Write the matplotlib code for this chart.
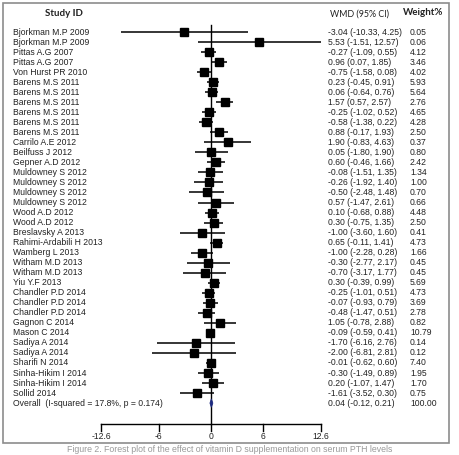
import matplotlib
matplotlib.use("Agg")
import matplotlib.pyplot as plt
import matplotlib.patches as mpatches
import matplotlib.transforms as mtransforms

# Study rows, top to bottom
studies = [
    "Bjorkman M.P 2009", "Bjorkman M.P 2009", "Pittas A.G 2007", "Pittas A.G 2007",
    "Von Hurst PR 2010", "Barens M.S 2011", "Barens M.S 2011", "Barens M.S 2011",
    "Barens M.S 2011", "Barens M.S 2011", "Barens M.S 2011", "Carrilo A.E 2012",
    "Beilfuss J 2012", "Gepner A.D 2012", "Muldowney S 2012", "Muldowney S 2012",
    "Muldowney S 2012", "Muldowney S 2012", "Wood A.D 2012", "Wood A.D 2012",
    "Breslavsky A 2013", "Rahimi-Ardabili H 2013", "Wamberg L 2013", "Witham M.D 2013",
    "Witham M.D 2013", "Yiu Y.F 2013", "Chandler P.D 2014", "Chandler P.D 2014",
    "Chandler P.D 2014", "Gagnon C 2014", "Mason C 2014", "Sadiya A 2014",
    "Sadiya A 2014", "Sharifi N 2014", "Sinha-Hikim I 2014", "Sinha-Hikim I 2014",
    "Sollid 2014",
]
wmd = [-3.04, 5.53, -0.27, 0.96, -0.75, 0.23, 0.06, 1.57, -0.25, -0.58, 0.88, 1.90,
       0.05, 0.60, -0.08, -0.26, -0.50, 0.57, 0.10, 0.30, -1.00, 0.65, -1.00, -0.30,
       -0.70, 0.30, -0.25, -0.07, -0.48, 1.05, -0.09, -1.70, -2.00, -0.01, -0.30,
       0.20, -1.61]
ci_low = [-10.33, -1.51, -1.09, 0.07, -1.58, -0.45, -0.64, 0.57, -1.02, -1.38, -0.17,
          -0.83, -1.80, -0.46, -1.51, -1.92, -2.48, -1.47, -0.68, -0.75, -3.60, -0.11,
          -2.28, -2.77, -3.17, -0.39, -1.01, -0.93, -1.47, -0.78, -0.59, -6.16, -6.81,
          -0.62, -1.49, -1.07, -3.52]
ci_high = [4.25, 12.57, 0.55, 1.85, 0.08, 0.91, 0.76, 2.57, 0.52, 0.22, 1.93, 4.63,
           1.90, 1.66, 1.35, 1.40, 1.48, 2.61, 0.88, 1.35, 1.60, 1.41, 0.28, 2.17,
           1.77, 0.99, 0.51, 0.79, 0.51, 2.88, 0.41, 2.76, 2.81, 0.60, 0.89, 1.47,
           0.30]
weights = [0.05, 0.06, 4.12, 3.46, 4.02, 5.93, 5.64, 2.76, 4.65, 4.28, 2.50, 0.37,
           0.80, 2.42, 1.34, 1.00, 0.70, 0.66, 4.48, 2.50, 0.41, 4.73, 1.66, 0.45,
           0.45, 5.69, 4.73, 3.69, 2.78, 0.82, 10.79, 0.14, 0.12, 7.40, 1.95, 1.70,
           0.75]

overall_label = "Overall  (I-squared = 17.8%, p = 0.174)"
overall_est, overall_low, overall_high, overall_weight = 0.04, -0.12, 0.21, 100.00

x_ticks = [-12.6, -6, 0, 6, 12.6]
x_tick_labels = ["-12.6", "-6", "0", "6", "12.6"]

W, H = 460, 455
fig = plt.figure(figsize=(W / 100, H / 100), dpi=100)
ax = fig.add_axes([0, 0, 1, 1])
ax.axis("off")

# pixel layout: x=0 at 211px, 8.73 px per unit; first row at 32px, 10.03 px per row
px_zero, px_unit = 211, 8.73
py_first, py_row = 32, 10.03
ax.set_xlim(-px_zero / px_unit, (W - px_zero) / px_unit)
ax.set_ylim((H - py_first) / py_row, -py_first / py_row)

def row_of(py):
    return (py - py_first) / py_row

# columns placed by figure fraction x, data y
tr = mtransforms.blended_transform_factory(fig.transFigure, ax.transData)

label_font = dict(family=["Liberation Sans", "DejaVu Sans"], fontsize=6.2, color="#222222")
head_font = dict(family=["Lato", "DejaVu Sans"], fontsize=7, fontweight="bold", color="#222222")

# header
ax.text(45 / W, row_of(13), "Study ID", transform=tr, va="center", ha="left", **head_font)
ax.text(330 / W, row_of(14), "WMD (95% CI)", transform=tr, va="center", ha="left",
        family=["Lato", "DejaVu Sans"], fontsize=6.4, color="#222222")
ax.text(403 / W, row_of(12), "Weight%", transform=tr, va="center", ha="left", **head_font)

# study rows
for i, name in enumerate(studies):
    ax.plot([ci_low[i], ci_high[i]], [i, i], color="black", lw=1.1, solid_capstyle="butt", zorder=2)
    ax.plot(wmd[i], i, marker="s", color="black", markersize=6.3, zorder=3)
    ax.text(13 / W, i, name, transform=tr, va="center", ha="left", **label_font)
    ax.text(328 / W, i, f"{wmd[i]:.2f} ({ci_low[i]:.2f}, {ci_high[i]:.2f})",
            transform=tr, va="center", ha="left", **label_font)
    ax.text(410 / W, i, f"{weights[i]:.2f}", transform=tr, va="center", ha="left", **label_font)

# overall row
r = len(studies)
diamond = mpatches.Polygon([[overall_low, r], [overall_est, r - 0.42],
                            [overall_high, r], [overall_est, r + 0.42]],
                           closed=True, facecolor="#1c2a80", edgecolor="#1c2a80", lw=0.6, zorder=4)
ax.add_patch(diamond)
ax.text(13 / W, r, overall_label, transform=tr, va="center", ha="left", **label_font)
ax.text(328 / W, r, f"{overall_est:.2f} ({overall_low:.2f}, {overall_high:.2f})",
        transform=tr, va="center", ha="left", **label_font)
ax.text(410 / W, r, f"{overall_weight:.2f}", transform=tr, va="center", ha="left", **label_font)

# null line and x axis
axis_row = row_of(424)
ax.plot([0, 0], [row_of(25), axis_row], color="black", lw=1.0, zorder=1)
ax.plot([x_ticks[0], x_ticks[-1]], [axis_row, axis_row], color="black", lw=1.0)
for t, lab in zip(x_ticks, x_tick_labels):
    ax.plot([t, t], [axis_row, row_of(431)], color="black", lw=1.0)
    ax.text(t, row_of(437), lab, ha="center", va="center", **label_font)

# frame around the figure panel
fig.patches.append(mpatches.Rectangle((3 / W, 1 - 443 / H), 446 / W, 440 / H,
                                      transform=fig.transFigure, fill=False,
                                      edgecolor="#8c8c8c", lw=1.2))

# caption under the panel
fig.text(0.5, 1 - 445 / H, "Figure 2. Forest plot of the effect of vitamin D supplementation on serum PTH levels",
         ha="center", va="top", family=["Liberation Sans", "DejaVu Sans"], fontsize=6.3,
         color="#9a9a9a")

fig.savefig("out.png", dpi=100)
